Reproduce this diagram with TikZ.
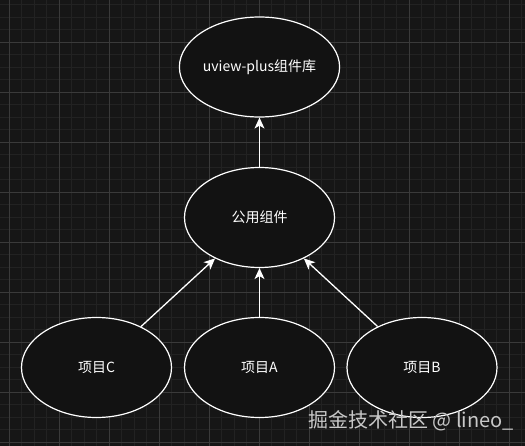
\documentclass[tikz,border=0pt]{standalone}
\usepackage{fontspec}
\setmainfont{Noto Sans CJK SC}
\newfontfamily\cjk{Noto Sans CJK SC}
\usetikzlibrary{arrows.meta,shapes.geometric}
\definecolor{bgc}{HTML}{161616}
\definecolor{minorc}{HTML}{222222}
\definecolor{majorc}{HTML}{3A3A3A}
\definecolor{fillc}{HTML}{121212}
\definecolor{wmc}{HTML}{C8C8C8}
\tikzset{
  oval/.style={ellipse, draw=white, fill=fillc, line width=1.2pt,
    minimum width=150pt, minimum height=100pt, inner sep=0pt,
    text=white, font=\cjk\fontsize{14}{16}\selectfont},
  conn/.style={draw=white, line width=1.3pt, -{Stealth[length=11pt,width=10pt,inset=3pt]}}
}
\begin{document}
\begin{tikzpicture}[x=1pt,y=-1pt]
\fill[bgc] (0,0) rectangle (525,446);
\useasboundingbox (0,0) rectangle (525,446);
\foreach \i in {0,...,42} {
  \draw[minorc, line width=0.8pt] ({-3.2+12.5*\i},0) -- ({-3.2+12.5*\i},446);
}
\foreach \i in {0,...,36} {
  \draw[minorc, line width=0.8pt] (0,{-7.7+12.5*\i}) -- (525,{-7.7+12.5*\i});
}
\foreach \i in {0,...,10} {
  \draw[majorc, line width=0.8pt] ({9.3+50*\i},0) -- ({9.3+50*\i},446);
}
\foreach \i in {0,...,8} {
  \draw[majorc, line width=0.8pt] (0,{42.3+50*\i}) -- (525,{42.3+50*\i});
}
\node[oval] (lib) at (259.5,67) {uview-plus组件库};
\node[oval] (common) at (259.5,217.5) {公用组件};
\node[oval] (pc) at (96.5,367.5) {项目C};
\node[oval] (pa) at (259.5,367.5) {项目A};
\node[oval] (pb) at (422,367.5) {项目B};
\draw[conn] (common) -- (lib);
\draw[conn] (pc) -- (common);
\draw[conn] (pa) -- (common);
\draw[conn] (pb) -- (common);
\node[anchor=base west, inner sep=0pt, text=wmc, font=\cjk\fontsize{20}{22}\selectfont] (wm) at (308,428) {掘金技术社区 @ lineo\_};
\end{tikzpicture}
\end{document}
